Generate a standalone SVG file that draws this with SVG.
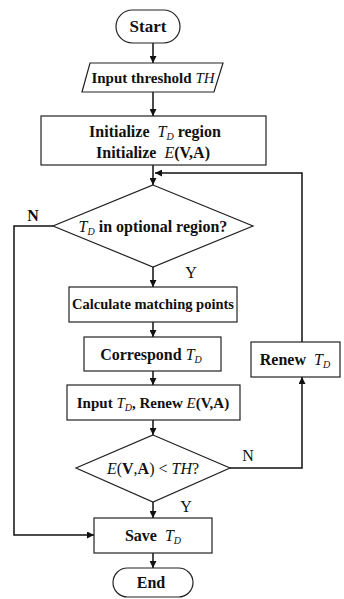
<svg xmlns="http://www.w3.org/2000/svg" width="344" height="599" viewBox="0 0 344 599">
<style>
.s{fill:#fff;stroke:#222;stroke-width:1.2}
.c{fill:none;stroke:#111;stroke-width:1.5}
text{font-family:"Liberation Serif","Times New Roman",serif;font-size:16px;font-weight:bold;fill:#111;text-anchor:middle}
.i{font-style:italic;font-weight:normal}
.n{font-weight:normal}
.sub{font-size:10px;font-style:italic;font-weight:normal}
</style>
<defs>
<marker id="a" viewBox="0 0 10 10" refX="10" refY="5" markerWidth="7" markerHeight="7" orient="auto" markerUnits="userSpaceOnUse"><path d="M0,0 L10,5 L0,10 z" fill="#111"/></marker>
</defs>
<rect width="344" height="599" fill="#fff"/>
<g id="connectors">
<line class="c" x1="153" y1="43" x2="153" y2="63" marker-end="url(#a)"/>
<line class="c" x1="153" y1="92" x2="153" y2="116" marker-end="url(#a)"/>
<line class="c" x1="153" y1="165" x2="153" y2="185" marker-end="url(#a)"/>
<line class="c" x1="153" y1="267" x2="153" y2="287" marker-end="url(#a)"/>
<line class="c" x1="153" y1="322" x2="153" y2="337" marker-end="url(#a)"/>
<line class="c" x1="153" y1="371" x2="153" y2="385" marker-end="url(#a)"/>
<line class="c" x1="153" y1="420" x2="153" y2="435" marker-end="url(#a)"/>
<line class="c" x1="153" y1="502" x2="153" y2="518" marker-end="url(#a)"/>
<line class="c" x1="153" y1="553" x2="153" y2="568" marker-end="url(#a)"/>
<polyline class="c" points="53,226 14,226 14,535 94,535" marker-end="url(#a)"/>
<polyline class="c" points="230,468 302,468 302,377" marker-end="url(#a)"/>
<polyline class="c" points="302,342 302,173 155,173" marker-end="url(#a)"/>
<text x="33" y="221">N</text>
<text x="191" y="278" class="n">Y</text>
<text x="248" y="461" class="n">N</text>
<text x="186" y="512" class="n">Y</text>
</g>
<g id="start">
<rect class="s" x="116" y="10" width="64" height="33" rx="16.5"/>
<text x="148" y="32" style="font-size:17px">Start</text>
</g>
<g id="input">
<polygon class="s" points="90,63 223,63 214,92 82,92"/>
<text x="153" y="83" style="font-size:15px">Input threshold <tspan class="i">TH</tspan></text>
</g>
<g id="init">
<rect class="s" x="41" y="116" width="225" height="49"/>
<text x="155" y="137">Initialize <tspan class="i" dx="4">T</tspan><tspan class="sub" dy="3">D</tspan><tspan dy="-3" dx="4">region</tspan></text>
<text x="153" y="158">Initialize <tspan class="i" dx="4">E</tspan>(V,A)</text>
</g>
<g id="dec1">
<polygon class="s" points="153,185 253,226 153,267 53,226"/>
<text x="153" y="232"><tspan class="i">T</tspan><tspan class="sub" dy="3">D</tspan><tspan dy="-3" dx="4">in optional region?</tspan></text>
</g>
<g id="calc">
<rect class="s" x="69" y="287" width="168" height="35"/>
<text x="153" y="309" style="font-size:14.5px">Calculate matching points</text>
</g>
<g id="corr">
<rect class="s" x="84" y="337" width="137" height="34"/>
<text x="151" y="360">Correspond <tspan class="i">T</tspan><tspan class="sub" dy="3">D</tspan></text>
</g>
<g id="renewE">
<rect class="s" x="67" y="385" width="173" height="35"/>
<text x="153" y="408" style="font-size:15px">Input <tspan class="i">T</tspan><tspan class="sub" dy="3">D</tspan><tspan dy="-3">, Renew </tspan><tspan class="i">E</tspan>(V,A)</text>
</g>
<g id="dec2">
<polygon class="s" points="153,435 230,468 153,502 76,468"/>
<text x="153" y="474" class="n"><tspan class="i">E</tspan>(<tspan style="font-weight:bold">V</tspan>,<tspan style="font-weight:bold">A</tspan>) &lt; <tspan class="i">TH</tspan>?</text>
</g>
<g id="renewT">
<rect class="s" x="251" y="342" width="89" height="35"/>
<text x="295" y="365">Renew <tspan class="i" dx="4">T</tspan><tspan class="sub" dy="3">D</tspan></text>
</g>
<g id="save">
<rect class="s" x="94" y="518" width="118" height="35"/>
<text x="153" y="541">Save <tspan class="i" dx="4">T</tspan><tspan class="sub" dy="3">D</tspan></text>
</g>
<g id="end">
<rect class="s" x="113" y="568" width="80" height="29" rx="14.5"/>
<text x="151" y="588">End</text>
</g>
</svg>
